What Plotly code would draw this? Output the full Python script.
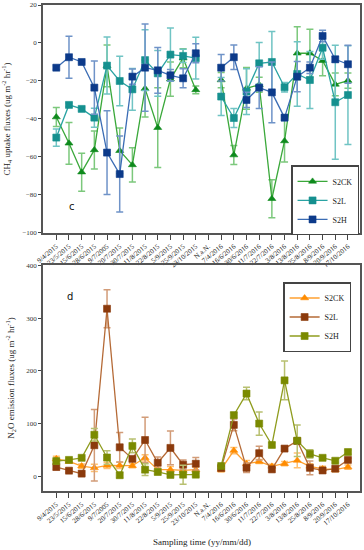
import plotly.graph_objects as go

dates = ["9/4/2015", "23/5/2015", "15/6/2015", "28/6/2015", "9/7/2005", "20/7/2015",
         "30/7/2015", "11/8/2015", "22/8/2015", "5/9/2015", "25/9/2015", "23/10/2015",
         "N.a.N.", "7/4/2016", "16/6/2016", "30/6/2016", "11/7/2016", "22/7/2016",
         "3/8/2016", "13/8/2016", "25/8/2016", "8/9/2016", "20/9/2016", "17/10/2016"]

# Panel c: CH4 uptake fluxes
ch4_ck = [-39, -52.8, -68, -56.3, -12, -56.7, -64.2, -24, -44.6, -19, -8, -24.7,
          None, -19.5, -59, -23.9, -22, -82, -51.6, -5.4, -5.4, -9.3, -21.8, -19.8]
ch4_ck_err = [5, 11, 10, 10, 11, 12, 9, 15, 21, 9, 5, 2,
              None, 4, 5, 11, 4, 10, 11, 14, 12.6, 8, 6, 4]
ch4_l = [-49.8, -32.6, -34.7, -39.3, -11.9, -20, -24.4, -9, -16, -6.1, -6.8, -8,
         None, -28.2, -39.5, -25.6, -10.7, -10, -23.3, -16.3, -19.5, -2.5, -31.2, -27.4]
ch4_l_err = [4.5, 1, 1, 5, 15, 13, 11, 16, 12, 14, 3.5, 11,
             None, 10, 5, 12, 11, 16, 2.5, 17, 15, 6, 30, 26]
ch4_h = [-13, -7.5, -10, -23.5, -57.7, -69, -17.7, -13, -14.4, -17, -18.6, -5.4,
         None, -13, -7.5, -30, -23.5, -26, -39.3, -17.7, -13, 3.7, -8.6, -11.2]
ch4_h_err = [1, 11, 0.5, 14, 22, 20, 4, 23, 12, 3, 5, 5,
             None, 7, 6.5, 4, 11, 16, 1.5, 8, 3, 3, 1.5, 10]

# Panel d: N2O emission fluxes
n2o_ck = [33, 28, 19.4, 16, 20.6, 20.6, 20, 35, 12.5, 12.5, 11, 12.5,
          None, 13, 48.8, 23.8, 28, 18.8, 23.8, 30, 18.8, 14, 12.5, 17.5]
n2o_ck_err = [5, 3, 4, 7, 6, 6, 4, 6, 4, 6, 7, 5,
              None, 5, 6, 6, 4, 4, 4, 14, 5, 5, 4, 4]
n2o_l = [17.5, 10.6, 5, 58.8, 318, 55, 33, 68.8, 25.6, 53.8, 21.9, 23.8,
         None, 15.6, 97.5, 16, 43.8, 13, 52.5, 67, 16, 11, 14.4, 31]
n2o_l_err = [5, 3, 3, 68, 36, 28, 4, 43, 11, 32, 9, 12,
             None, 4, 11, 9, 13, 3, 4, 4, 13, 5, 3, 3]
n2o_h = [28.8, 31, 35, 78.8, 35.6, 2, 57.5, 12.5, 8.1, 2.5, 3, 3,
         None, 19.4, 116, 157, 100, 59.4, 182, 67.5, 42.5, 35, 29.4, 46]
n2o_h_err = [5, 3, 3, 12, 13, 5, 13, 11, 5, 3, 18, 3,
             None, 3, 5, 12, 22, 4, 37, 30, 8, 3, 3, 4]

SERIF = "Liberation Serif, Times New Roman, serif"

fig = go.Figure()


def add(y, err, name, color, line_color, err_color, symbol, xa, ya, legend):
    fig.add_trace(go.Scatter(
        x=dates, y=y, name=name, mode="lines+markers",
        xaxis=xa, yaxis=ya, legend=legend, connectgaps=False,
        line=dict(color=line_color, width=1.3),
        marker=dict(symbol=symbol, size=7, color=color,
                    line=dict(width=0.6, color=color)),
        error_y=dict(type="data", array=err, visible=True, color=err_color,
                     thickness=1.5, width=3.5),
    ))


add(ch4_ck, ch4_ck_err, "S2CK", "#0e8a1c", "#3aa83a", "#7cc87c", "triangle-up", "x", "y", "legend")
add(ch4_l, ch4_l_err, "S2L", "#15908f", "#2aa3a3", "#70c4c4", "square", "x", "y", "legend")
add(ch4_h, ch4_h_err, "S2H", "#0c3a8a", "#3a6cb4", "#6f93c8", "square", "x", "y", "legend")

add(n2o_ck, n2o_ck_err, "S2CK", "#ff8c00", "#ffa030", "#ffc070", "triangle-up", "x2", "y2", "legend2")
add(n2o_l, n2o_l_err, "S2L", "#8b3a0c", "#b56a36", "#d29c78", "square", "x2", "y2", "legend2")
add(n2o_h, n2o_h_err, "S2H", "#7a8a00", "#8f9c1e", "#b8c070", "square", "x2", "y2", "legend2")

xcommon = dict(
    type="category", categoryorder="array", categoryarray=dates,
    range=[-1.05, 23.95], tickangle=-40, showgrid=False, zeroline=False,
    showline=True, linecolor="#555", linewidth=1.5, mirror=True,
    ticks="outside", ticklen=5, tickcolor="#444", automargin=False,
    tickfont=dict(family=SERIF, size=7, color="#222"),
)
ycommon = dict(
    showgrid=False, zeroline=False, showline=True, linecolor="#555",
    linewidth=1.5, mirror=True, ticks="outside", ticklen=3, tickcolor="#444",
    automargin=False,
    tickfont=dict(family=SERIF, size=7, color="#333"),
)

legend_style = dict(xanchor="right", yanchor="top",
                    bgcolor="white", bordercolor="#444", borderwidth=1.5,
                    font=dict(family=SERIF, size=8, color="#222"),
                    tracegroupgap=0, itemwidth=30)

fig.update_layout(
    width=364, height=550,
    margin=dict(l=43, r=4, t=5, b=59),
    paper_bgcolor="white", plot_bgcolor="white",
    xaxis=dict(**xcommon, anchor="y"),
    yaxis=dict(**ycommon, domain=[0.531, 1.0], range=[-100, 20],
               tickvals=[20, 0, -20, -40, -60, -80, -100], anchor="x",
               title=dict(text="CH<sub>4</sub> uptake fluxes (ug m<sup>-2</sup> hr<sup>-1</sup>)",
                          font=dict(family=SERIF, size=9, color="#222"), standoff=10)),
    xaxis2=dict(**xcommon, anchor="y2"),
    yaxis2=dict(**ycommon, domain=[0.0, 0.465], range=[-28, 401],
                tickvals=[0, 100, 200, 300, 400], anchor="x2",
                title=dict(text="N<sub>2</sub>O emission fluxes (ug m<sup>-2</sup> hr<sup>-1</sup>)",
                           font=dict(family=SERIF, size=9, color="#222"), standoff=10)),
    legend=dict(x=0.997, y=0.67, **legend_style),
    legend2=dict(x=0.972, y=0.43, **legend_style),
    showlegend=True,
    annotations=[
        dict(text="c", x=0.075, y=0.585, xref="paper", yref="paper", showarrow=False,
             font=dict(family="DejaVu Sans, Arial, sans-serif", size=10, color="#111")),
        dict(text="d", x=0.07, y=0.40, xref="paper", yref="paper", showarrow=False,
             font=dict(family="DejaVu Sans, Arial, sans-serif", size=10, color="#111")),
        dict(text="Sampling time (yy/mm/dd)", x=0.5, y=-0.105, xref="paper", yref="paper",
             showarrow=False, yanchor="middle",
             font=dict(family=SERIF, size=9, color="#222")),
    ],
)

fig.write_html("out.html",
               config={"displayModeBar": False},
               post_script="document.body.style.margin='0';document.body.style.padding='0';")
